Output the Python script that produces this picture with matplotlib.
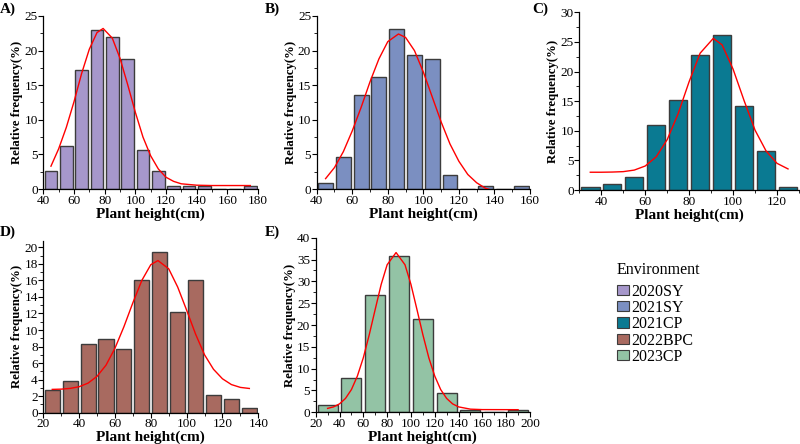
import numpy as np
import matplotlib
matplotlib.use("Agg")
import matplotlib.pyplot as plt
from matplotlib.patches import Patch
from matplotlib.ticker import AutoMinorLocator

plt.rcParams['font.family'] = ['Liberation Serif', 'DejaVu Serif']

# bar data: bin left edges, bin width, relative frequency (%)
a_bins = [40, 50, 60, 70, 80, 90, 100, 110, 120, 130, 140, 150, 160, 170]
a_freq = [2.6, 6.2, 17.2, 23.0, 22.0, 18.8, 5.7, 2.6, 0.5, 0.5, 0.5, 0.0, 0.0, 0.5]
b_bins = [40, 50, 60, 70, 80, 90, 100, 110, 120, 130, 140, 150]
b_freq = [0.9, 4.6, 13.6, 16.2, 23.1, 19.4, 18.8, 2.0, 0.0, 0.4, 0.0, 0.4]
c_bins = [30, 40, 50, 60, 70, 80, 90, 100, 110, 120]
c_freq = [0.5, 1.07, 2.14, 10.9, 15.25, 22.85, 26.1, 14.1, 6.5, 0.5]
d_bins = [20, 30, 40, 50, 60, 70, 80, 90, 100, 110, 120, 130]
d_freq = [2.74, 3.83, 8.3, 8.87, 7.74, 16.05, 19.4, 12.2, 16.05, 2.2, 1.65, 0.52]
e_bins = [20, 40, 60, 80, 100, 120, 140, 160, 180]
e_freq = [1.6, 7.8, 26.8, 35.8, 21.3, 4.4, 0.6, 0.0, 0.6]

# fitted curves
a_cx = [45, 50, 55, 60, 65, 70, 75, 79, 85, 90, 95, 100, 105, 110, 115, 120, 125, 130, 140, 150, 175]
a_cy = [3.3, 5.8, 8.9, 12.6, 16.7, 20.2, 22.6, 23.2, 21.8, 18.9, 15.1, 11.1, 7.5, 4.8, 2.9, 1.7, 1.1, 0.75, 0.55, 0.5, 0.5]
b_cx = [45, 50, 55, 60, 65, 70, 75, 80, 86, 90, 95, 100, 105, 110, 115, 120, 125, 130, 135, 140, 145, 150, 155]
b_cy = [1.5, 3.1, 5.4, 8.4, 11.8, 15.5, 18.8, 21.3, 22.4, 21.9, 20.0, 16.9, 13.3, 9.7, 6.5, 4.0, 2.1, 0.9, 0.1, -0.3, -0.5, -0.6, -0.65]
c_cx = [35, 40, 45, 50, 55, 60, 65, 70, 75, 80, 85, 91, 95, 100, 105, 110, 115, 120, 125]
c_cy = [3.0, 3.0, 3.03, 3.1, 3.36, 4.05, 5.6, 8.5, 12.9, 18.3, 23.1, 25.6, 24.5, 20.4, 15.1, 10.1, 6.6, 4.5, 3.56]
d_cx = [25, 30, 35, 40, 45, 50, 55, 60, 65, 70, 75, 80, 84, 90, 95, 100, 105, 110, 115, 120, 125, 130, 135]
d_cy = [2.82, 2.85, 2.94, 3.14, 3.58, 4.4, 5.75, 7.8, 10.4, 13.3, 16.0, 17.9, 18.4, 17.4, 15.2, 12.4, 9.5, 7.0, 5.25, 4.1, 3.4, 3.06, 2.93]
e_cx = [30, 35, 40, 45, 50, 55, 60, 65, 70, 75, 80, 87.5, 95, 100, 105, 110, 115, 120, 125, 130, 135, 140, 150, 160, 190]
e_cy = [0.9, 1.24, 1.93, 3.17, 5.2, 8.3, 12.5, 17.8, 23.6, 29.3, 33.8, 36.6, 33.8, 29.3, 23.6, 17.8, 12.5, 8.3, 5.2, 3.17, 1.93, 1.24, 0.72, 0.62, 0.6]

envs = ['2020SY', '2021SY', '2021CP', '2022BPC', '2023CP']
colors = ['#a697cb', '#7b8fc1', '#0a7a92', '#a86a60', '#93c3a5']

W, H = 800, 444
fig = plt.figure(figsize=(W / 100, H / 100), dpi=100)


def px_axes(left, top, right, bottom):
    return fig.add_axes([left / W, 1 - bottom / H, (right - left) / W, (bottom - top) / H])


def hist_panel(ax, bins, freq, width, cx, cy, color, xlim, ylim, xticks, yticks, label, lx, ly):
    centers = np.array(bins) + width / 2
    ax.bar(centers, freq, width=width * 0.84, color=color, edgecolor='#3c3c3c', linewidth=1.0, zorder=2)
    ax.plot(cx, cy, color='red', lw=1.0, zorder=3)
    ax.set_xlim(*xlim)
    ax.set_ylim(*ylim)
    ax.set_xticks(xticks)
    ax.set_yticks(yticks)
    ax.xaxis.set_minor_locator(AutoMinorLocator(2))
    ax.yaxis.set_minor_locator(AutoMinorLocator(2))
    for s in ['top', 'right']:
        ax.spines[s].set_visible(False)
    for s in ['left', 'bottom']:
        ax.spines[s].set_linewidth(0.9)
    ax.tick_params(which='major', direction='out', length=3.5, width=0.8, labelsize=9.5, pad=0.5)
    ax.tick_params(which='minor', direction='out', length=2, width=0.6)
    ax.set_xlabel('Plant height(cm)', fontsize=11, fontweight='bold', labelpad=0.5)
    ax.set_ylabel('Relative frequency(%)', fontsize=9.2, fontweight='bold', labelpad=0.8)
    fig.text(lx / W, 1 - ly / H, label, fontsize=11, fontweight='bold', va='top', ha='left')


ax_a = px_axes(43.3, 16, 258, 189)
hist_panel(ax_a, a_bins, a_freq, 10, a_cx, a_cy, colors[0], (40, 180), (0, 25),
           range(40, 181, 20), range(0, 26, 5), 'A)', 0, 3)

ax_b = px_axes(316.7, 16, 530, 189)
hist_panel(ax_b, b_bins, b_freq, 10, b_cx, b_cy, colors[1], (40, 160), (0, 25),
           range(40, 161, 20), range(0, 26, 5), 'B)', 265, 3)

ax_c = px_axes(579.3, 12.3, 799, 190)
hist_panel(ax_c, c_bins, c_freq, 10, c_cx, c_cy, colors[2], (30, 130), (0, 30),
           range(40, 121, 20), range(0, 31, 5), 'C)', 532, 3)

ax_d = px_axes(43.3, 240.7, 258.3, 412.7)
hist_panel(ax_d, d_bins, d_freq, 10, d_cx, d_cy, colors[3], (20, 140), (0, 20.8),
           range(20, 141, 20), range(0, 21, 2), 'D)', 0, 226)

ax_e = px_axes(315.7, 237.7, 530, 412.3)
hist_panel(ax_e, e_bins, e_freq, 20, e_cx, e_cy, colors[4], (20, 200), (0, 40),
           range(20, 201, 20), range(0, 41, 5), 'E)', 265, 226)

handles = [Patch(facecolor=c, edgecolor='#3c3c3c', linewidth=0.8, label=e) for c, e in zip(colors, envs)]
leg = fig.legend(handles=handles, title='Environment', loc='upper left',
                 bbox_to_anchor=(617 / W, 1 - 262 / H), frameon=False, fontsize=11.5,
                 title_fontsize=11.5, handlelength=0.75, handleheight=0.6, handletextpad=0.15,
                 labelspacing=0.02, borderaxespad=0, borderpad=0)
leg._legend_box.align = 'left'
leg._legend_box.sep = 4

fig.savefig('out.png', dpi=100)
